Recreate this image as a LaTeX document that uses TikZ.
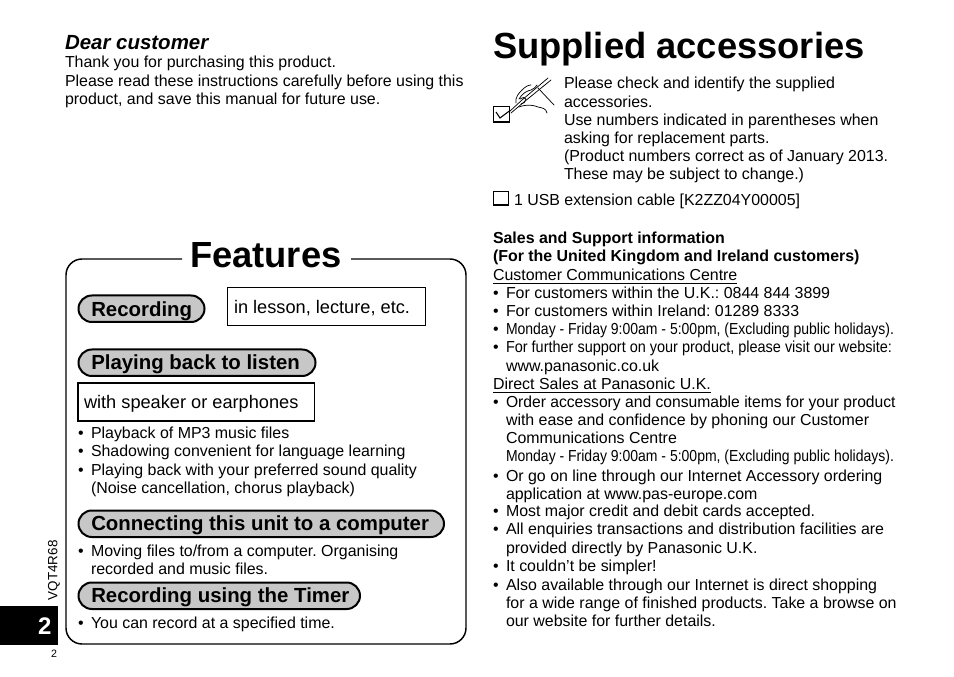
\documentclass[tikz,border=0pt]{standalone}
\usepackage{fontspec}
\usepackage{graphicx}
\setmainfont{Liberation Sans}
\newcommand{\narrow}[1]{\scalebox{0.878}[1]{#1}}
\newcommand{\narrowb}[1]{\scalebox{0.908}[1]{#1}}
\newcommand{\narrowc}[1]{\scalebox{0.982}[1]{#1}}
\frenchspacing
\tikzset{
  x=0.75pt,y=-0.75pt,
  txt/.style={anchor=base west,inner sep=0pt,outer sep=0pt,font=\fontsize{11.95pt}{13pt}\selectfont\frenchspacing},
  pill/.style={draw=black,line width=1.5pt,fill=black!22,rounded corners=10pt},
  pilltxt/.style={anchor=base west,inner sep=0pt,font=\fontsize{15.3pt}{17pt}\selectfont\bfseries},
  plainbox/.style={draw=black,line width=0.9pt},
  hand/.style={draw=black,line width=0.55pt,line cap=round,line join=round}
}
\begin{document}
\begin{tikzpicture}
\useasboundingbox (0,0) rectangle (954,677);
% left column
\node[txt,font=\fontsize{15.35pt}{16pt}\selectfont\bfseries\itshape] (dear) at (65,50) {Dear customer};
\node[txt] (l1) at (65,67.7) {Thank you for purchasing this product.};
\node[txt] (l2) at (65,86.7) {Please read these instructions carefully before using this};
\node[txt] (l3) at (65,104.7) {product, and save this manual for future use.};
% features frame
\draw[line width=1.1pt,rounded corners=12pt] (182,259) -- (66,259) -- (66,644) -- (466,644) -- (466,259) -- (351,259);
\node[txt,font=\fontsize{27.25pt}{30pt}\selectfont\bfseries] (feat) at (190,268) {Features};
% pills
\draw[pill] (78.5,295.5) rectangle (204.5,322);
\node[pilltxt] (p1) at (91,316.7) {Recording};
\draw[pill] (78.5,349.5) rectangle (315.5,376);
\node[pilltxt] (p2) at (91,369.5) {Playing back to listen};
\draw[pill] (78.5,510.5) rectangle (444,537);
\node[pilltxt] (p3) at (91,530) {Connecting this unit to a computer};
\draw[pill] (78.5,582.5) rectangle (360,609);
\node[pilltxt] (p4) at (91,602) {Recording using the Timer};
% boxes
\draw[plainbox] (227.5,287.5) rectangle (425.5,325.5);
\node[txt,font=\fontsize{13.65pt}{15pt}\selectfont] (b1) at (234,313.8) {in lesson, lecture, etc.};
\draw[plainbox] (78,383) rectangle (314.5,421);
\node[txt,font=\fontsize{13.65pt}{15pt}\selectfont] (b2) at (84,408.8) {with speaker or earphones};
% bullets left
\node[txt] (a0) at (78,438.7) {•};
\node[txt] (a1) at (91,438.7) {Playback of MP3 music files};
\node[txt] (a2b) at (78,456.7) {•};
\node[txt] (a2) at (91,456.7) {Shadowing convenient for language learning};
\node[txt] (a3b) at (78,475.7) {•};
\node[txt] (a3) at (91,475.7) {Playing back with your preferred sound quality};
\node[txt] (a4) at (91,493.7) {(Noise cancellation, chorus playback)};
\node[txt] (a5b) at (78,556.7) {•};
\node[txt] (a5) at (91,556.7) {Moving files to/from a computer. Organising};
\node[txt] (a6) at (91,574.7) {recorded and music files.};
\node[txt] (a7b) at (78,628.7) {•};
\node[txt] (a7) at (91,628.7) {You can record at a specified time.};
% tab
\fill[black] (0,606) rectangle (58,645);
\node[txt,text=white,font=\fontsize{18pt}{20pt}\selectfont\bfseries] (tab) at (38,634) {2};
\node[txt,font=\fontsize{8pt}{9pt}\selectfont] (pg) at (51,657) {2};
\node[txt,rotate=90,font=\fontsize{10.05pt}{11pt}\selectfont] (vq) at (57.5,600) {VQT4R68};
% right column
\node[txt,font=\fontsize{27.25pt}{30pt}\selectfont\bfseries] (sup) at (493,59) {Supplied accessories};
% hand illustration
\draw[line width=0.8pt] (493.5,106.5) rectangle (509.5,122);
\draw[line width=0.8pt] (496,112) -- (500,118) -- (510,110.5);
\draw[hand] (509,112) -- (522,100) -- (548,78);
\draw[hand] (511,113) -- (524,102) -- (551,80);
\draw[hand] (516,103) .. controls (515,97) and (519,93) .. (522,90) .. controls (525,87) and (528,85) .. (531,85);
\draw[hand] (519,99) .. controls (522,94) and (526,91) .. (531,90) .. controls (533,89) and (535,88) .. (537,85);
\draw[hand] (519,107) .. controls (527,104) and (533,105) .. (538,107) .. controls (542,108) and (546,108) .. (547,113);
\draw[hand] (538,88) -- (554,105);
\draw[hand] (520,99) .. controls (522,97) and (525,97) .. (526,99) .. controls (526,102) and (523,104) .. (521,104);
% paragraph
\node[txt] (s1) at (564,88.5) {Please check and identify the supplied};
\node[txt] (s2) at (564,107.5) {accessories.};
\node[txt] (s3) at (564,125.5) {Use numbers indicated in parentheses when};
\node[txt] (s4) at (564,143.5) {asking for replacement parts.};
\node[txt] (s5) at (564,161.5) {(Product numbers correct as of January 2013.};
\node[txt] (s6) at (564,179.5) {These may be subject to change.)};
\draw[line width=0.8pt] (493.5,191.5) rectangle (508.5,205);
\node[txt] (s7) at (514,205.7) {1 USB extension cable [K2ZZ04Y00005]};
% sales
\node[txt,font=\fontsize{11.95pt}{13pt}\selectfont\bfseries] (h1) at (493,243.5) {Sales and Support information};
\node[txt,font=\fontsize{11.95pt}{13pt}\selectfont\bfseries] (h2) at (493,261.5) {(For the United Kingdom and Ireland customers)};
\node[txt] (c0) at (493,281) {\underline{Customer Communications Centre}};
\node[txt] (c1b) at (493,299) {•};
\node[txt] (c1) at (506,299) {For customers within the U.K.: 0844 844 3899};
\node[txt] (c2b) at (493,317) {•};
\node[txt] (c2) at (506,317) {For customers within Ireland: 01289 8333};
\node[txt] (c3b) at (493,335) {•};
\node[txt] (c3) at (506,335) {\narrow{Monday - Friday 9:00am - 5:00pm, (Excluding public holidays).}};
\node[txt] (c4b) at (493,353) {•};
\node[txt] (c4) at (506,353) {\narrowb{For further support on your product, please visit our website:}};
\node[txt] (c5) at (506,372) {www.panasonic.co.uk};
\node[txt] (d0) at (493,390) {\underline{Direct Sales at Panasonic U.K.}};
\node[txt] (d1b) at (493,408) {•};
\node[txt] (d1) at (506,408) {\narrowc{Order accessory and consumable items for your product}};
\node[txt] (d2) at (506,426) {with ease and confidence by phoning our Customer};
\node[txt] (d3) at (506,444) {Communications Centre};
\node[txt] (d4) at (506,461) {\narrow{Monday - Friday 9:00am - 5:00pm, (Excluding public holidays).}};
\node[txt] (d5b) at (493,481) {•};
\node[txt] (d5) at (506,481) {Or go on line through our Internet Accessory ordering};
\node[txt] (d6) at (506,499) {application at www.pas-europe.com};
\node[txt] (d7b) at (493,516.5) {•};
\node[txt] (d7) at (506,516.5) {Most major credit and debit cards accepted.};
\node[txt] (d8b) at (493,534.5) {•};
\node[txt] (d8) at (506,534.5) {All enquiries transactions and distribution facilities are};
\node[txt] (d9) at (506,553) {provided directly by Panasonic U.K.};
\node[txt] (d10b) at (493,571) {•};
\node[txt] (d10) at (506,571) {It couldn’t be simpler!};
\node[txt] (d11b) at (493,590) {•};
\node[txt] (d11) at (506,590) {Also available through our Internet is direct shopping};
\node[txt] (d12) at (506,608) {for a wide range of finished products. Take a browse on};
\node[txt] (d13) at (506,626) {our website for further details.};
\end{tikzpicture}
\end{document}
